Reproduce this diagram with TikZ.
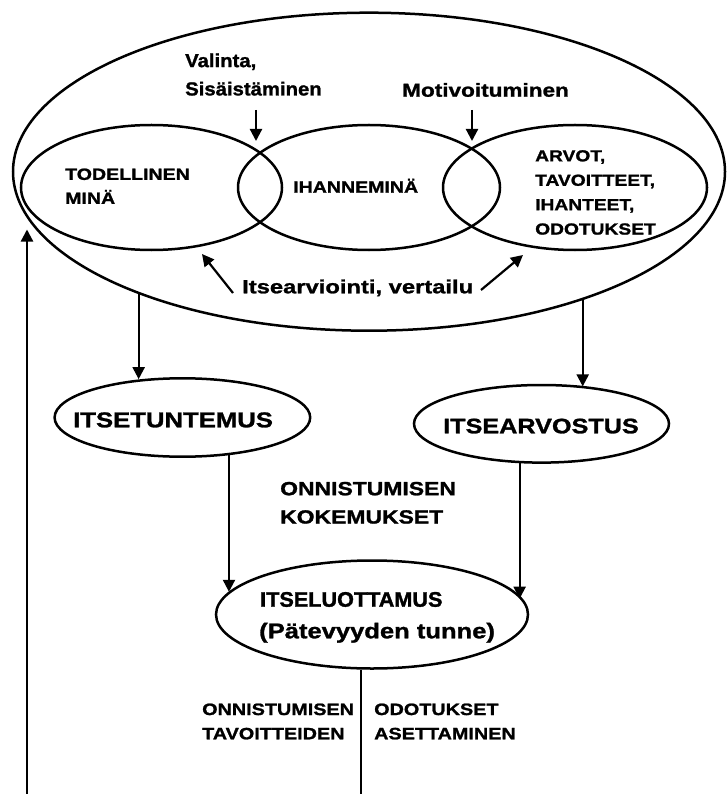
\documentclass[tikz,border=0pt]{standalone}
\usepackage{fontspec}
\setmainfont{Liberation Sans}
% heavy sans faces, widened by different amounts
\newfontfamily\fwide{Liberation Sans Bold}[FakeStretch=1.2, FakeBold=1.3]
\newfontfamily\fwider{Liberation Sans Bold}[FakeStretch=1.25, FakeBold=1.3]
\newfontfamily\fnarrow{Liberation Sans Bold}[FakeStretch=1.08, FakeBold=1.3]
\newfontfamily\fplain{Liberation Sans Bold}[FakeStretch=1.03, FakeBold=1.5]
\usetikzlibrary{arrows.meta,shapes.geometric}

\begin{document}
\begin{tikzpicture}[x=1pt,y=-1pt,
  ell/.style={draw, ellipse, line width=2.5pt, inner sep=0pt},
  arr/.style={line width=2.2pt, -{Triangle[length=12pt,width=12pt]}},
  wire/.style={line width=2.2pt},
  lbl/.style={inner sep=0pt, anchor=base west},
  blk/.style={inner sep=0pt, anchor=north west, align=left},
]
\useasboundingbox (0,0) rectangle (726,794);

% --- the self: outer ellipse and the three overlapping parts
\node[ell, minimum width=712pt, minimum height=318pt] (self) at (369,171.7) {};
\node[ell, minimum width=261pt, minimum height=125pt] (real) at (151.5,187.5) {};
\node[ell, minimum width=262pt, minimum height=125pt] (ideal) at (369,187.5) {};
\node[ell, minimum width=264pt, minimum height=125pt] (values) at (575,187.5) {};

\node[blk, font=\fnarrow\fontsize{18.8}{28.3}\selectfont] (valinta) at (185,53.3) {Valinta,\\Sisäistäminen};
\node[lbl, font=\fwide\fontsize{18.8}{24}\selectfont] (motiv) at (402,96.7) {Motivoituminen};
\node[blk, font=\fwide\fontsize{16.3}{24}\selectfont] (real-t) at (65,168.3) {TODELLINEN\\MINÄ};
\node[lbl, font=\fwide\fontsize{16.3}{24}\selectfont] (ideal-t) at (293,192.7) {IHANNEMINÄ};
\node[blk, font=\fwide\fontsize{16}{24.4}\selectfont] (values-t) at (535,150) {ARVOT,\\TAVOITTEET,\\IHANTEET,\\ODOTUKSET};
\node[lbl, font=\fwider\fontsize{19}{24}\selectfont] (cmp) at (242,293.3) {Itsearviointi, vertailu};

% arrows inside the outer ellipse
\coordinate (valA) at (256,110);  \coordinate (valB) at (256,141);
\coordinate (motA) at (472,110);  \coordinate (motB) at (472,141);
\coordinate (cmpLa) at (233,293); \coordinate (cmpLb) at (202,254);
\coordinate (cmpRa) at (481,290); \coordinate (cmpRb) at (523,255);
\draw[arr] (valA) -- (valB);
\draw[arr] (motA) -- (motB);
\draw[arr] (cmpLa) -- (cmpLb);
\draw[arr] (cmpRa) -- (cmpRb);

% --- self-knowledge and self-esteem
\node[ell, minimum width=255.6pt, minimum height=78.4pt] (tunt) at (182.4,417.5) {};
\node[ell, minimum width=255pt, minimum height=77.6pt] (arvo) at (541.5,423.8) {};
\node[lbl, font=\fwide\fontsize{21.4}{24}\selectfont] (tunt-t) at (73,427.3) {ITSETUNTEMUS};
\node[lbl, font=\fwide\fontsize{21}{24}\selectfont] (arvo-t) at (443,433.3) {ITSEARVOSTUS};

\draw[arr] (self.208.4) -- (self.208.4 |- tunt.137.4);
\draw[arr] (self.329.8) -- (self.329.8 |- arvo.39.3);

\node[blk, font=\fwide\fontsize{19.1}{28.3}\selectfont] (succ) at (280,481.7) {ONNISTUMISEN\\KOKEMUKSET};

% --- self-confidence
\node[ell, minimum width=312pt, minimum height=108pt] (lu) at (372,614.5) {};
\node[lbl, font=\fplain\fontsize{21}{24}\selectfont] (lu-t) at (260,606.7) {ITSELUOTTAMUS};
\node[lbl, font=\fwide\fontsize{21.3}{24}\selectfont] (lu-s) at (259,638.3) {(Pätevyyden tunne)};

\draw[arr] (tunt.321.2) -- (tunt.321.2 |- lu.171.8);
\draw[arr] (arvo.241.8) -- (arvo.241.8 |- lu.6.1);

% --- feedback loop back into the self
\node[blk, font=\fwide\fontsize{16.5}{24.3}\selectfont] (goal-l) at (202,703.3) {ONNISTUMISEN\\TAVOITTEIDEN};
\node[blk, font=\fwide\fontsize{16.5}{24.3}\selectfont] (goal-r) at (374,703.3) {ODOTUKSET\\ASETTAMINEN};

\coordinate (loopout) at (0,794);
\coordinate (loopin) at (27,794);
\coordinate (looptip) at (27,229.5);
\draw[wire] (lu.259.2) -- (lu.259.2 |- loopout);
\draw[arr] (loopin) -- (looptip);
\end{tikzpicture}
\end{document}
